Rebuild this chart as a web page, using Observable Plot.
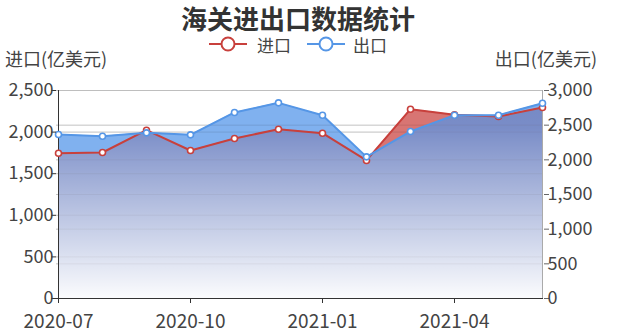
<!DOCTYPE html>
<html>
<head>
<meta charset="utf-8">
<script src="https://cdn.jsdelivr.net/npm/d3@7"></script>
<script src="https://cdn.jsdelivr.net/npm/@observablehq/plot@0.6"></script>
<style>
  body { margin: 0; background: #fff; font-family: "Noto Sans CJK SC", "Noto Sans", sans-serif; }
  #wrap { position: relative; width: 618px; height: 333px; overflow: hidden; }
  #head { position: relative; width: 618px; height: 68px; }
  .abs { position: absolute; white-space: nowrap; }
  #chart svg { display: block; }
</style>
</head>
<body>
<div id="wrap">
  <div id="head"></div>
  <div id="chart"></div>
</div>
<script>
// ---------- data ----------
const chartTitle = "海关进出口数据统计";
const seriesNames = ["进口", "出口"];
const axisNames = ["进口(亿美元)", "出口(亿美元)"];
const months = ["2020-07","2020-08","2020-09","2020-10","2020-11","2020-12",
                "2021-01","2021-02","2021-03","2021-04","2021-05","2021-06"];
const imports = [1746, 1755, 2023, 1779, 1923, 2035, 1987, 1659, 2275, 2208, 2188, 2296];
const exports = [2365, 2341, 2389, 2360, 2683, 2822, 2644, 2043, 2409, 2644, 2644, 2817];
const leftTicks = [0, 500, 1000, 1500, 2000, 2500];
const rightTicks = [0, 500, 1000, 1500, 2000, 2500, 3000];
const xTicks = ["2020-07", "2020-10", "2021-01", "2021-04"];

const leftMax = 2500, rightMax = 3000;
const k = leftMax / rightMax;
const RED = "#c8403c", BLUE = "#5596e6";
const FONT = "'Noto Sans CJK SC', 'Noto Sans', sans-serif";

// ---------- header (title, legend, axis names) ----------
const head = document.getElementById("head");
function addText(txt, css) {
  const d = document.createElement("div");
  d.className = "abs";
  d.textContent = txt;
  Object.assign(d.style, css);
  head.appendChild(d);
  return d;
}
addText(chartTitle, { left: "298px", top: "0px", transform: "translateX(-50%)",
  fontSize: "26px", fontWeight: "bold", lineHeight: "36px", color: "#333" });

function legendItem(color, iconLeft, textLeft, label) {
  const ns = "http://www.w3.org/2000/svg";
  const s = document.createElementNS(ns, "svg");
  s.setAttribute("width", 40); s.setAttribute("height", 20);
  s.style.position = "absolute"; s.style.left = iconLeft + "px"; s.style.top = "34px";
  const l = document.createElementNS(ns, "line");
  l.setAttribute("x1", 0); l.setAttribute("x2", 38); l.setAttribute("y1", 10); l.setAttribute("y2", 10);
  l.setAttribute("stroke", color); l.setAttribute("stroke-width", 2);
  const c = document.createElementNS(ns, "circle");
  c.setAttribute("cx", 19); c.setAttribute("cy", 10); c.setAttribute("r", 6.5);
  c.setAttribute("fill", "#fff"); c.setAttribute("stroke", color); c.setAttribute("stroke-width", 2);
  s.appendChild(l); s.appendChild(c);
  head.appendChild(s);
  addText(label, { left: textLeft + "px", top: "36px", fontSize: "17px", lineHeight: "17px", color: "#444" });
}
legendItem(RED, 209, 257, seriesNames[0]);
legendItem(BLUE, 307, 353, seriesNames[1]);

addText(axisNames[0], { left: "5px", top: "48px", fontSize: "18px", lineHeight: "20px", color: "#444" });
addText(axisNames[1], { right: "21px", top: "48px", fontSize: "18px", lineHeight: "20px", color: "#444" });

// ---------- plot ----------
const data = months.map((m, i) => ({ m, imp: imports[i], exp: exports[i] * k }));
const rightPos = rightTicks.map(v => v * k);
const fmt = d3.format(",");

const plot = Plot.plot({
  width: 618, height: 265,
  marginTop: 22, marginBottom: 35, marginLeft: 56, marginRight: 75,
  style: { fontFamily: FONT, fontSize: "18px", color: "#444", background: "#fff", overflow: "visible" },
  x: { type: "point", domain: months, padding: 0 },
  y: { domain: [0, leftMax] },
  marks: [
    Plot.gridY(leftTicks, { stroke: "#ccc", strokeOpacity: 1 }),
    Plot.gridY(rightPos, { stroke: "#ccc", strokeOpacity: 1 }),
    Plot.areaY(data, { x: "m", y: "imp", fill: "#c9403d", fillOpacity: 0.72 }),
    Plot.areaY(data, { x: "m", y: "exp", fill: "#4a90e8", fillOpacity: 0.7 }),
    Plot.gridY(leftTicks, { stroke: "#888", strokeOpacity: 0.1 }),
    Plot.gridY(rightPos, { stroke: "#888", strokeOpacity: 0.1 }),
    Plot.ruleX([months[months.length - 1]], { stroke: "#aaa" }),
    Plot.ruleX([months[0]], { stroke: "#333" }),
    Plot.ruleY([0], { stroke: "#333" }),
    Plot.lineY(data, { x: "m", y: "imp", stroke: RED, strokeWidth: 2 }),
    Plot.lineY(data, { x: "m", y: "exp", stroke: BLUE, strokeWidth: 2 }),
    Plot.dot(data, { x: "m", y: "imp", r: 3, fill: "white", stroke: RED, strokeWidth: 1.6 }),
    Plot.dot(data, { x: "m", y: "exp", r: 3, fill: "white", stroke: BLUE, strokeWidth: 1.6 }),
    Plot.axisY(leftTicks, { anchor: "left", tickFormat: fmt, tickSize: 5, tickPadding: -2, stroke: "#333", label: null }),
    Plot.axisY(rightPos, { anchor: "right", tickFormat: d => fmt(Math.round(d / k)), tickSize: 5, tickPadding: -1, stroke: "#666", label: null }),
    Plot.axisX(xTicks, { anchor: "bottom", tickSize: 5, tickPadding: 11, fontSize: 19, stroke: "#333", label: null })
  ]
});
document.getElementById("chart").appendChild(plot);

// ---------- gradient fade under both series (intersection of the two areas) ----------
(function () {
  const ns = "http://www.w3.org/2000/svg";
  const areas = plot.querySelectorAll('g[aria-label="area"]');
  if (areas.length < 2) return;
  const ys = plot.scale("y");
  const yTop = ys.apply(leftMax), yBot = ys.apply(0);
  const defs = document.createElementNS(ns, "defs");
  const grad = document.createElementNS(ns, "linearGradient");
  grad.setAttribute("id", "fadeGrad");
  grad.setAttribute("gradientUnits", "userSpaceOnUse");
  grad.setAttribute("x1", 0); grad.setAttribute("x2", 0);
  grad.setAttribute("y1", yTop); grad.setAttribute("y2", yBot);
  [[0, 0], [0.18, 0.04], [1, 0.97]].forEach(([o, a]) => {
    const st = document.createElementNS(ns, "stop");
    st.setAttribute("offset", o);
    st.setAttribute("stop-color", "#fff");
    st.setAttribute("stop-opacity", a);
    grad.appendChild(st);
  });
  defs.appendChild(grad);
  const ids = ["clipImp", "clipExp"];
  areas.forEach((g, i) => {
    if (i > 1) return;
    const p = g.querySelector("path");
    const cp = document.createElementNS(ns, "clipPath");
    cp.setAttribute("id", ids[i]);
    const cpath = document.createElementNS(ns, "path");
    cpath.setAttribute("d", p.getAttribute("d"));
    const t = g.getAttribute("transform");
    if (t) cpath.setAttribute("transform", t);
    cp.appendChild(cpath);
    defs.appendChild(cp);
  });
  plot.insertBefore(defs, plot.firstChild);
  const outer = document.createElementNS(ns, "g");
  outer.setAttribute("clip-path", "url(#clipImp)");
  const rect = document.createElementNS(ns, "rect");
  rect.setAttribute("x", 0); rect.setAttribute("width", 618);
  rect.setAttribute("y", yTop); rect.setAttribute("height", yBot - yTop);
  rect.setAttribute("fill", "url(#fadeGrad)");
  rect.setAttribute("clip-path", "url(#clipExp)");
  outer.appendChild(rect);
  areas[1].after(outer);
})();
</script>
</body>
</html>
